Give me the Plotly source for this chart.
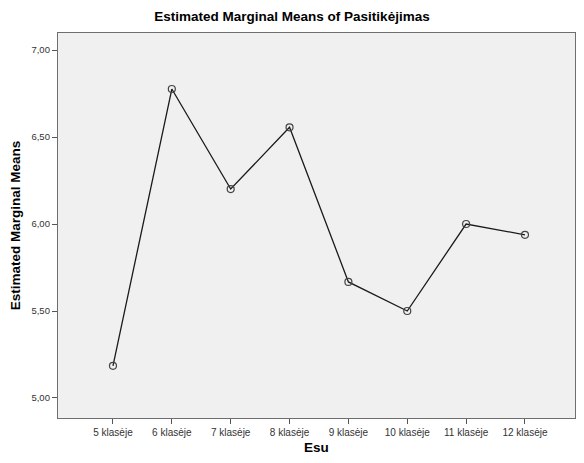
import plotly.graph_objects as go

# grade levels and estimated marginal means
klases = ["5 klasėje", "6 klasėje", "7 klasėje", "8 klasėje",
          "9 klasėje", "10 klasėje", "11 klasėje", "12 klasėje"]
means = [5.185, 6.776, 6.201, 6.556, 5.667, 5.500, 6.000, 5.938]
ytick_vals = [5.0, 5.5, 6.0, 6.5, 7.0]

fig = go.Figure()
fig.add_trace(go.Scatter(
    x=list(range(len(klases))), y=means, mode="lines+markers",
    line=dict(color="#1a1a1a", width=1.3),
    marker=dict(symbol="circle-open", size=7, color="#444444", line=dict(width=1.2)),
    showlegend=False,
))

# page body has an 8px default margin, so the figure is sized to fit inside it
fig.update_layout(
    width=568, height=447,
    margin=dict(l=50, r=1, t=25, b=37),
    paper_bgcolor="white", plot_bgcolor="#f0f0f0",
    separators=",.",
    font=dict(family="Liberation Sans, Arial, sans-serif", color="#222222"),
    title=dict(text="<b>Estimated Marginal Means of Pasitikėjimas</b>",
               x=0.5, xanchor="center", y=0.982, yanchor="middle",
               font=dict(size=13.5, color="black")),
)
fig.update_xaxes(
    range=[-0.934, 7.85], tickvals=list(range(len(klases))), ticktext=klases,
    ticks="outside", ticklen=5, tickcolor="#555555", tickwidth=1,
    tickfont=dict(size=10, color="#333333"),
    showgrid=False, zeroline=False, automargin=False,
    showline=True, linecolor="#6e6e6e", linewidth=1.3, mirror=True,
    title=dict(text="<b>Esu</b>", font=dict(size=13.5, color="black")),
)
fig.update_yaxes(
    range=[4.885, 7.098], tickvals=ytick_vals, tickformat=".2f",
    ticks="outside", ticklen=5, tickcolor="#555555", tickwidth=1,
    tickfont=dict(size=9.5, color="#333333"),
    showgrid=False, zeroline=False, automargin=False,
    showline=True, linecolor="#6e6e6e", linewidth=1.3, mirror=True,
    title=dict(text="<b>Estimated Marginal Means</b>", font=dict(size=13.5, color="black")),
)

fig.write_html("out.html")
